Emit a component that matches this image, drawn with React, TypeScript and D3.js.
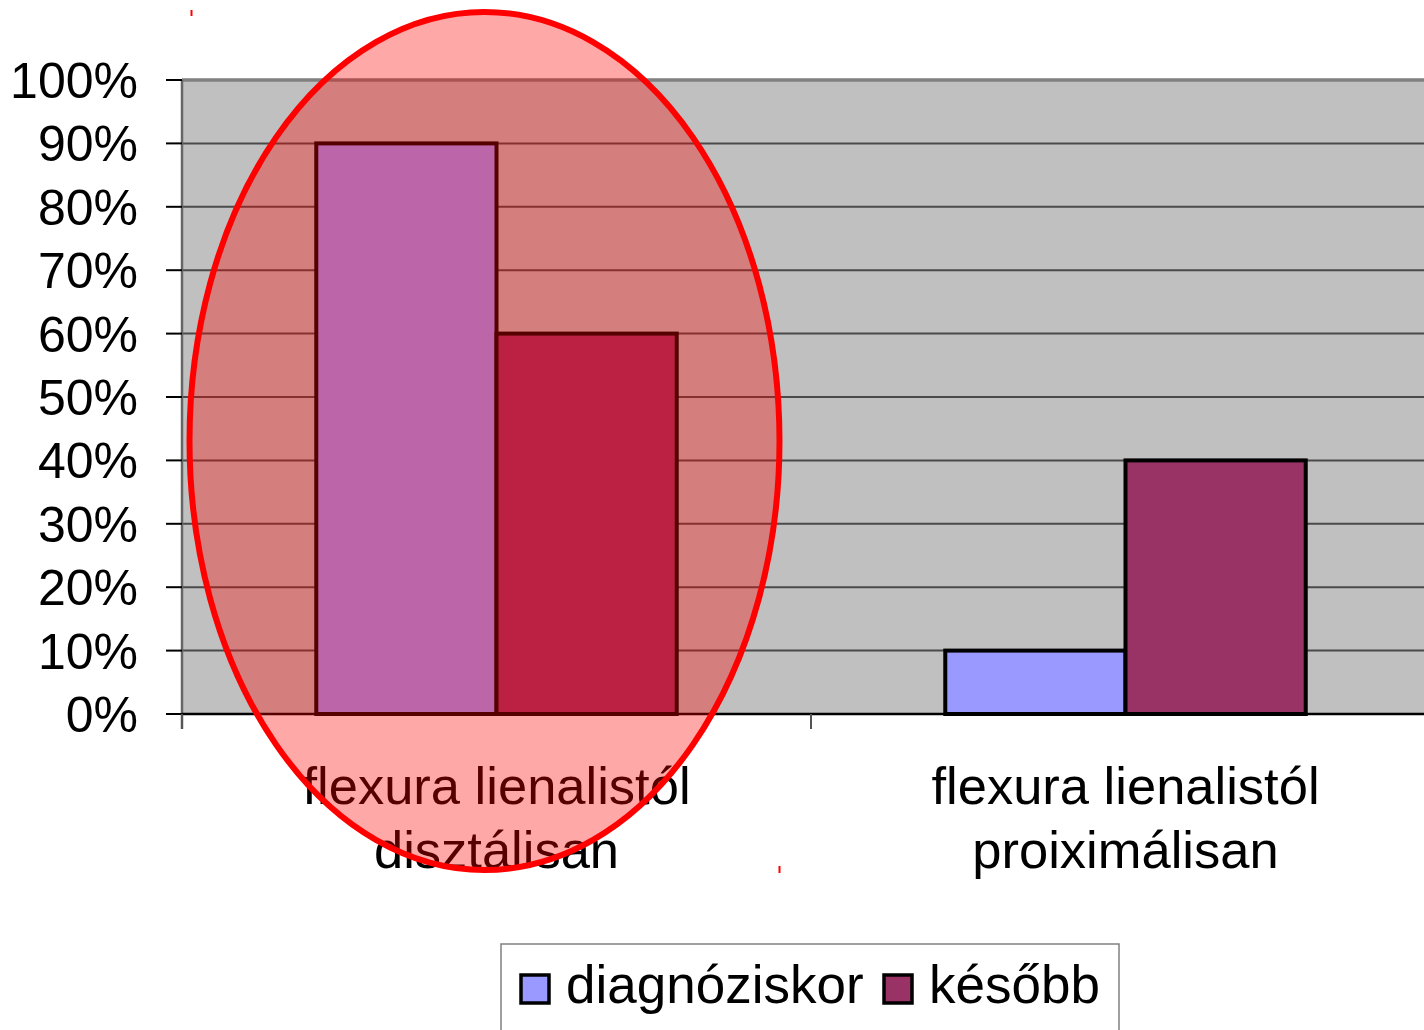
import React from 'react';
import * as d3 from 'd3';

const categories = [
  ['flexura lienalistól', 'disztálisan'],
  ['flexura lienalistól', 'proiximálisan'],
];
const seriesNames = ['diagnóziskor', 'később'];
const seriesColors = ['#9999FF', '#993366'];
const diagnoziskor = [90, 10];
const kesobb = [60, 40];
const yTicks = [0, 10, 20, 30, 40, 50, 60, 70, 80, 90, 100];

const W = 1424;
const H = 1030;
const FONT = '"Liberation Sans", Arial, sans-serif';

const App: React.FC = () => {
  const plot = { left: 182, right: 1440, top: 80, bottom: 714 };

  const x = d3.scaleBand<number>()
    .domain(d3.range(categories.length))
    .range([plot.left, plot.right])
    .padding(0);
  const y = d3.scaleLinear().domain([0, 100]).range([plot.bottom, plot.top]);

  // bars inside each category: group occupies the middle of the band
  const inner = d3.scaleBand<number>()
    .domain([0, 1])
    .range([0, x.bandwidth()])
    .paddingInner(0)
    .paddingOuter(0.745);

  const values = [diagnoziskor, kesobb];

  // highlight ellipse around first category
  const ex = x(0)! + x.bandwidth() / 2 - 12;
  const ey = (y(100) + y(0)) / 2 + 44;
  const erx = 295;
  const ery = 429;

  return (
    <svg width={W} height={H} style={{ position: 'absolute', left: 0, top: 0 }} fontFamily={FONT}>
      <rect x={0} y={0} width={W} height={H} fill="#fff" />
      {/* plot area */}
      <rect x={plot.left} y={plot.top} width={plot.right - plot.left} height={plot.bottom - plot.top} fill="#C0C0C0" />
      {yTicks.filter(t => t > 0 && t < 100).map(t => (
        <line key={t} x1={plot.left} x2={plot.right} y1={y(t)} y2={y(t)} stroke="#4a4a4a" strokeWidth={2} />
      ))}
      <line x1={plot.left} x2={plot.right} y1={plot.top} y2={plot.top} stroke="#808080" strokeWidth={3.5} />
      <line x1={plot.left} x2={plot.left} y1={plot.top} y2={plot.bottom + 15} stroke="#666" strokeWidth={2.5} />
      {/* y ticks + labels */}
      {yTicks.map(t => (
        <g key={t}>
          <line x1={plot.left - 16} x2={plot.left} y1={y(t)} y2={y(t)} stroke="#000" strokeWidth={2} />
          <text x={138} y={y(t) + 18} textAnchor="end" fontSize={50} fill="#000">{t}%</text>
        </g>
      ))}
      {/* bars */}
      {categories.map((_, ci) => values.map((vals, si) => (
        <rect
          key={`${ci}-${si}`}
          x={x(ci)! + inner(si)!}
          y={y(vals[ci])}
          width={inner.bandwidth()}
          height={y(0) - y(vals[ci])}
          fill={seriesColors[si]}
          stroke="#000"
          strokeWidth={4}
        />
      )))}
      {/* x axis */}
      <line x1={plot.left} x2={plot.right} y1={plot.bottom} y2={plot.bottom} stroke="#000" strokeWidth={2.5} />
      {categories.map((_, ci) => (
        <line key={ci} x1={x(ci)!} x2={x(ci)!} y1={plot.bottom} y2={plot.bottom + 15} stroke="#555" strokeWidth={2} />
      ))}
      {categories.map((lines, ci) => (
        <text key={ci} x={x(ci)! + x.bandwidth() / 2} textAnchor="middle" fontSize={52.5} fill="#000">
          {lines.map((l, li) => (
            <tspan key={li} x={x(ci)! + x.bandwidth() / 2} y={804 + li * 64}>{l}</tspan>
          ))}
        </text>
      ))}
      {/* highlight */}
      <ellipse cx={ex} cy={ey} rx={erx} ry={ery} fill="rgba(255,0,0,0.34)" stroke="#FF0000" strokeWidth={6} />
      <rect x={ex - erx + 1} y={10} width={2} height={6} fill="#FF0000" />
      <rect x={ex + erx - 1} y={866} width={2} height={7} fill="#FF0000" />
      {/* legend */}
      <rect x={501} y={944} width={618} height={110} fill="#fff" stroke="#808080" strokeWidth={1.5} />
      {seriesNames.map((name, i) => {
        const sx = i === 0 ? 521 : 884;
        return (
          <g key={name}>
            <rect x={sx} y={975} width={28} height={28} fill={seriesColors[i]} stroke="#000" strokeWidth={3.5} />
            <text x={sx + 45} y={1003} fontSize={53} fill="#000">{name}</text>
          </g>
        );
      })}
    </svg>
  );
};

export default App;
